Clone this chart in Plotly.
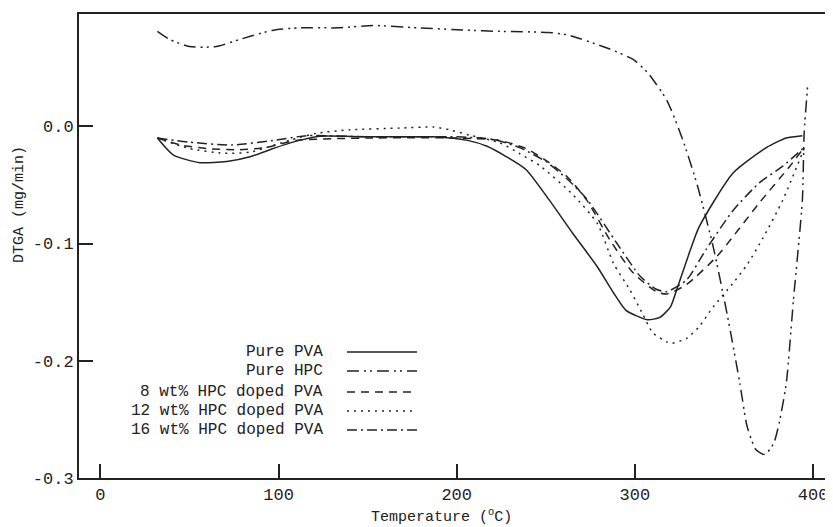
import plotly.graph_objects as go

# ---- data ----
pva_T = [32, 41, 56, 71, 84, 97, 108, 123, 150, 187, 206, 217, 228, 239, 252, 265, 279, 288, 295, 307, 314, 320, 324, 331, 336, 355, 374, 385, 394]
pva_v = [-0.010, -0.0245, -0.031, -0.030, -0.026, -0.019, -0.0135, -0.0085, -0.009, -0.009, -0.012, -0.017, -0.026, -0.037, -0.063, -0.091, -0.120, -0.142, -0.157, -0.165, -0.163, -0.154, -0.137, -0.106, -0.086, -0.040, -0.018, -0.010, -0.008]

hpc_T = [32, 39, 50, 65, 78, 97, 112, 134, 153, 178, 206, 224, 252, 262, 284, 299, 307, 318, 327, 335, 344, 352, 359, 363, 368, 373, 378, 381, 385, 389, 394, 395, 397]
hpc_v = [0.081, 0.074, 0.068, 0.068, 0.074, 0.082, 0.084, 0.084, 0.086, 0.084, 0.082, 0.081, 0.080, 0.078, 0.067, 0.057, 0.046, 0.022, -0.012, -0.050, -0.103, -0.162, -0.220, -0.256, -0.276, -0.280, -0.270, -0.253, -0.219, -0.148, -0.063, -0.006, 0.035]

hpc8_T = [32, 45, 60, 78, 93, 110, 150, 200, 224, 239, 250, 262, 273, 286, 299, 312, 318, 329, 346, 370, 387, 395]
hpc8_v = [-0.010, -0.016, -0.019, -0.020, -0.018, -0.012, -0.010, -0.010, -0.012, -0.019, -0.029, -0.043, -0.063, -0.097, -0.125, -0.141, -0.143, -0.135, -0.111, -0.065, -0.034, -0.018]

hpc12_T = [32, 50, 69, 84, 106, 121, 140, 168, 187, 196, 207, 224, 235, 247, 265, 279, 288, 297, 304, 310, 318, 321, 329, 336, 344, 355, 363, 372, 383, 395]
hpc12_v = [-0.010, -0.019, -0.023, -0.022, -0.012, -0.006, -0.003, -0.0015, -0.0006, -0.003, -0.0075, -0.014, -0.023, -0.034, -0.058, -0.083, -0.117, -0.139, -0.159, -0.176, -0.184, -0.185, -0.181, -0.171, -0.154, -0.134, -0.118, -0.095, -0.063, -0.019]

hpc16_T = [32, 50, 74, 97, 116, 150, 200, 220, 235, 250, 262, 273, 290, 303, 312, 318, 329, 340, 355, 370, 383, 395]
hpc16_v = [-0.010, -0.0135, -0.016, -0.012, -0.008, -0.009, -0.009, -0.011, -0.018, -0.030, -0.045, -0.062, -0.100, -0.128, -0.139, -0.141, -0.131, -0.105, -0.072, -0.048, -0.034, -0.018]

series_names = ["Pure PVA", "Pure HPC", "8 wt% HPC doped PVA", "12 wt% HPC doped PVA", "16 wt% HPC doped PVA"]
series_T = [pva_T, hpc_T, hpc8_T, hpc12_T, hpc16_T]
series_v = [pva_v, hpc_v, hpc8_v, hpc12_v, hpc16_v]
dashes = ["solid", "12px,5px,2px,4px,2px,5px", "8px,6px", "2px,5px", "10px,4px,2px,4px"]

x_ticks = [0, 100, 200, 300, 400]
y_ticks = [0.0, -0.1, -0.2, -0.3]
y_ticklabels = ["0.0", "-0.1", "-0.2", "-0.3"]

FONT = "Liberation Mono"
INK = "#222222"

fig = go.Figure()
for name, T, v, d in zip(series_names, series_T, series_v, dashes):
    fig.add_trace(go.Scatter(x=T, y=v, mode="lines", name=name, showlegend=False,
                             line=dict(color=INK, width=1.5, dash=d, shape="spline", smoothing=0.6)))

# custom legend: text on the left, line sample on the right
leg_y = [0.2716, 0.2306, 0.1853, 0.1444, 0.1034]
for name, d, yy in zip(series_names, dashes, leg_y):
    fig.add_annotation(x=0.3263, y=yy, xref="paper", yref="paper", text=name, showarrow=False,
                       xanchor="right", yanchor="middle", font=dict(family=FONT, size=16, color=INK))
    fig.add_shape(type="line", xref="paper", yref="paper", x0=0.3554, x1=0.4483, y0=yy, y1=yy,
                  line=dict(color=INK, width=1.6, dash=d))

fig.add_annotation(x=0.481, y=-0.082, xref="paper", yref="paper", text="Temperature (<sup>o</sup>C)",
                   showarrow=False, xanchor="center", yanchor="middle", font=dict(family=FONT, size=15, color=INK))
fig.add_annotation(x=-0.0796, y=0.5905, xref="paper", yref="paper", text="DTGA (mg/min)", textangle=-90,
                   showarrow=False, xanchor="center", yanchor="middle", font=dict(family=FONT, size=15, color=INK))

# page body has an 8px margin, so the figure is sized to end at the window edge
fig.update_layout(
    template="none",
    width=825, height=519,
    margin=dict(l=71, r=0, t=6, b=49, autoexpand=False),
    paper_bgcolor="white", plot_bgcolor="white",
    font=dict(family=FONT, size=16, color=INK),
    xaxis=dict(range=[-12, 411.2], tickvals=x_ticks, ticks="inside", ticklen=14, tickwidth=1.5, tickcolor=INK,
               showline=True, linecolor=INK, linewidth=2, mirror=True, showgrid=False, zeroline=False,
               automargin=False, tickfont=dict(family=FONT, size=17, color=INK)),
    yaxis=dict(range=[-0.3, 0.0958], tickvals=y_ticks, ticktext=y_ticklabels, ticks="inside", ticklen=14,
               tickwidth=1.5, tickcolor=INK, showline=True, linecolor=INK, linewidth=2, showgrid=False,
               zeroline=False, automargin=False, tickfont=dict(family=FONT, size=17, color=INK)),
)

fig.write_html("out.html")
